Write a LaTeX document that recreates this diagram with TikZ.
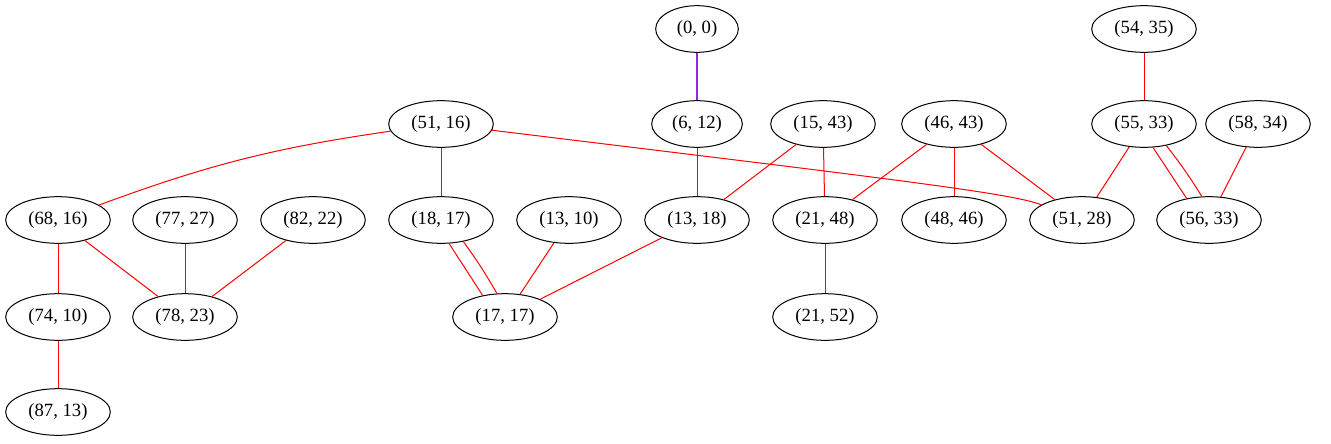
\documentclass[tikz,border=0pt]{standalone}
\usepackage{fontspec}
\setmainfont{Liberation Serif}
\usetikzlibrary{shapes.geometric}
\definecolor{edgered}{RGB}{255,0,0}
\definecolor{edgeviolet}{RGB}{148,40,226}
\begin{document}
\begin{tikzpicture}[x=0.75pt,y=-0.75pt,
  gnode/.style={draw, ellipse, line width=0.75pt, inner sep=0pt,
    minimum width=78.5pt, minimum height=35pt,
    font=\fontsize{14pt}{16pt}\selectfont},
  edge/.style={draw=edgered, line width=0.75pt},
  vedge/.style={draw=edgeviolet, line width=0.8pt}]
\useasboundingbox (0,0) rectangle (1331,443);
% row 0
\node[gnode, minimum width=62pt] (n00) at (697,29) {(0, 0)};
\node[gnode] (n5435) at (1144,29) {(54, 35)};
% row 1
\node[gnode] (n5116) at (441,124) {(51, 16)};
\node[gnode, minimum width=68pt] (n612) at (697,124) {(6, 12)};
\node[gnode] (n1543) at (823,124) {(15, 43)};
\node[gnode] (n4643) at (954,124) {(46, 43)};
\node[gnode] (n5533) at (1144,124) {(55, 33)};
\node[gnode] (n5834) at (1258,124) {(58, 34)};
% row 2
\node[gnode] (n6816) at (58,220) {(68, 16)};
\node[gnode] (n7727) at (185,220) {(77, 27)};
\node[gnode] (n8222) at (313,220) {(82, 22)};
\node[gnode] (n1817) at (441,220) {(18, 17)};
\node[gnode] (n1310) at (569,220) {(13, 10)};
\node[gnode] (n1318) at (697,220) {(13, 18)};
\node[gnode] (n2148) at (825,220) {(21, 48)};
\node[gnode] (n4846) at (954,220) {(48, 46)};
\node[gnode] (n5128) at (1082,220) {(51, 28)};
\node[gnode] (n5633) at (1209,220) {(56, 33)};
% row 3
\node[gnode] (n7410) at (58,317) {(74, 10)};
\node[gnode] (n7823) at (185,317) {(78, 23)};
\node[gnode] (n1717) at (505,317) {(17, 17)};
\node[gnode] (n2152) at (825,317) {(21, 52)};
% row 4
\node[gnode] (n8713) at (58,412) {(87, 13)};
% edges
\draw[vedge] (n00) -- (n612);
\draw[edge] (n612) -- (n1318);
\draw[edge] (n5435) -- (n5533);
\draw[edge] (n5116) to[bend right=6] (n6816);
\draw[edge] (n5116) -- (n1817);
\draw[edge] (n5116) .. controls (900,180) and (1010,193) .. (n5128);
\draw[edge] (n1543) -- (n1318);
\draw[edge] (n1543) -- (n2148);
\draw[edge] (n4643) -- (n2148);
\draw[edge] (n4643) -- (n4846);
\draw[edge] (n4643) -- (n5128);
\draw[edge] (n5533) -- (n5128);
\draw[edge] (n5533.-69) -- (n5633.136);
\draw[edge] (n5533.-44) to[bend left=3] (n5633.107);
\draw[edge] (n5834) -- (n5633);
\draw[edge] (n6816) -- (n7410);
\draw[edge] (n6816) -- (n7823);
\draw[edge] (n7727) -- (n7823);
\draw[edge] (n8222) -- (n7823);
\draw[edge] (n1817.-71) -- (n1717.136);
\draw[edge] (n1817.-44) to[bend left=3] (n1717.109);
\draw[edge] (n1310) -- (n1717);
\draw[edge] (n1318) -- (n1717);
\draw[edge] (n2148) -- (n2152);
\draw[edge] (n7410) -- (n8713);
\end{tikzpicture}
\end{document}
